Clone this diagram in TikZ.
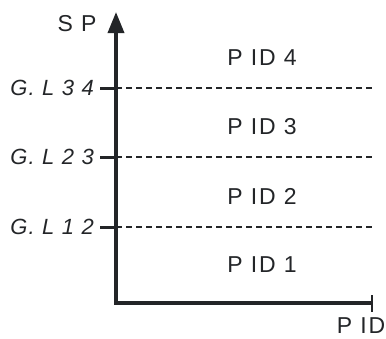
\documentclass[tikz,border=0pt]{standalone}
\usepackage{fontspec}
\setmainfont{Liberation Sans}
\usetikzlibrary{arrows.meta}
\definecolor{ink}{RGB}{35,37,40}
\tikzset{
	lbl/.style={font=\fontsize{23}{27}\selectfont\addfontfeature{LetterSpace=8},text=ink,inner sep=0pt},
	glbl/.style={font=\fontsize{22}{26}\selectfont\itshape\addfontfeature{LetterSpace=6},text=ink,inner sep=0pt,anchor=east},
	level/.style={dashed,dash pattern=on 6pt off 4pt,line width=2pt,ink},
	tick/.style={line width=3pt,ink}
}
\begin{document}
\begin{tikzpicture}[x=1pt,y=-1pt]
		\useasboundingbox (0,0) rectangle (386,338);
		\coordinate (org)  at (116,303);
		\coordinate (ytop) at (116,12);
		\coordinate (xend) at (372,303);
		% level lines
		\coordinate (l34) at (116,88);
		\coordinate (l23) at (116,157);
		\coordinate (l12) at (116,227);
		\coordinate (r34) at (372,88);
		\coordinate (r23) at (372,157);
		\coordinate (r12) at (372,227);
		\node[glbl] (g34) at (94,88)  {G. L 3 4};
		\node[glbl] (g23) at (94,157) {G. L 2 3};
		\node[glbl] (g12) at (94,227) {G. L 1 2};
		\draw[tick] (g34.east) ++(6,0) -- (l34);
		\draw[tick] (g23.east) ++(6,0) -- (l23);
		\draw[tick] (g12.east) ++(6,0) -- (l12);
		\draw[level] (l34) -- (r34);
		\draw[level] (l23) -- (r23);
		\draw[level] (l12) -- (r12);
		% axes
		\draw[line width=3.5pt,ink,{Triangle[length=21pt,width=16pt]}-] (ytop) -- (org) -- (xend);
		\draw[line width=2.5pt,ink] (xend) ++(0,-8) -- ++(0,17);
		\node[lbl] (sp) at (77,24) {S P};
		\node[lbl] (pid4) at (262,58)  {P ID 4};
		\node[lbl] (pid3) at (262,127) {P ID 3};
		\node[lbl] (pid2) at (262,196) {P ID 2};
		\node[lbl] (pid1) at (262,265) {P ID 1};
		\node[lbl] (pid)  at (361,326) {P ID};
	\end{tikzpicture}
\end{document}
